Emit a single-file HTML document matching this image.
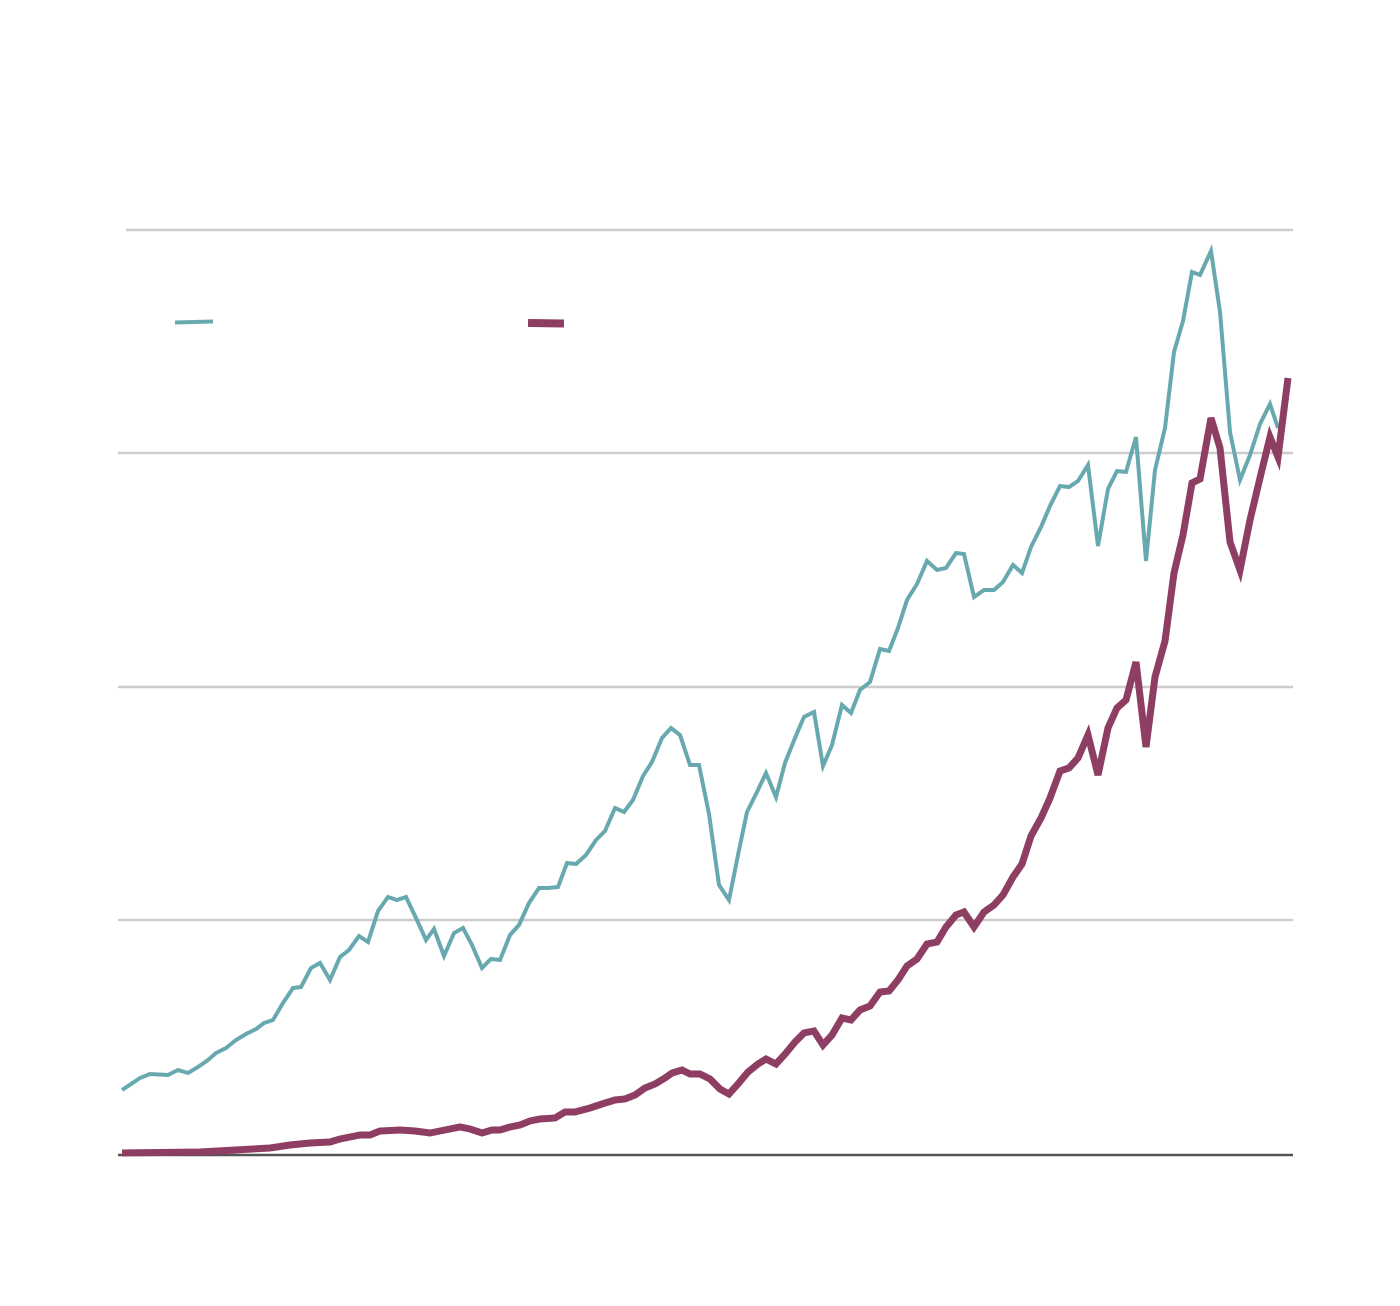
<!DOCTYPE html>
<html><head><meta charset="utf-8"><style>html,body{margin:0;padding:0;background:#fff;}svg{display:block}</style></head>
<body>
<svg width="1400" height="1306" viewBox="0 0 1400 1306" xmlns="http://www.w3.org/2000/svg">
<g stroke="#cccccc" stroke-width="2.5">
<line x1="126" y1="230" x2="1293" y2="230"/>
<line x1="118" y1="453" x2="1293" y2="453"/>
<line x1="118" y1="687" x2="1293" y2="687"/>
<line x1="118" y1="920" x2="1293" y2="920"/>
</g>
<line x1="118" y1="1155" x2="1293" y2="1155" stroke="#555" stroke-width="2.5"/>
<line x1="175" y1="322.5" x2="213" y2="321.5" stroke="#68a9b0" stroke-width="4"/>
<line x1="528" y1="323" x2="564" y2="323.5" stroke="#8e3e62" stroke-width="8"/>
<polyline fill="none" stroke="#68a9b0" stroke-width="4" stroke-linejoin="miter" points="122,1090 140,1078 150,1074 168,1075 178,1070 188,1073 198,1067 208,1060 216,1053 226,1048 236,1040 246,1034 256,1029 264,1023 273,1020 283,1003 293,988 301,987 311,968 320,963 330,980 340,957 349,950 359,936 368,942 378,911 388,897 397,900 406,897 416,918 426,940 434,929 444,956 454,933 463,928 472,945 482,968 491,959 500,960 510,935 519,925 529,903 539,888 548,888 558,887 567,863 576,864 586,855 596,840 605,831 615,808 624,812 633,800 643,776 652,762 662,738 671,728 680,735 690,765 699,765 709,814 719,885 729,900 738,855 747,812 757,792 766,773 776,797 785,763 795,738 804,717 814,712 823,766 832,745 842,705 851,713 860,690 870,682 880,649 889,651 898,628 907,600 917,584 927,561 937,570 946,568 956,553 964,554 974,597 984,590 994,590 1003,582 1013,565 1022,573 1031,547 1041,527 1050,506 1060,486 1069,487 1078,481 1088,465 1098,546 1108,489 1117,471 1126,472 1136,437 1146,561 1155,470 1165,428 1174,352 1183,321 1192,272 1200,275 1211,251 1220,312 1230,432 1240,480 1250,455 1260,424 1270,404 1278,428"/>
<polyline fill="none" stroke="#8e3e62" stroke-width="7" stroke-linejoin="miter" points="122,1153 200,1152 270,1148 290,1145 310,1143 330,1142 340,1139 360,1135 370,1135 380,1131 400,1130 415,1131 430,1133 445,1130 460,1127 470,1129 482,1133 492,1130 500,1130 510,1127 520,1125 530,1121 540,1119 555,1118 565,1112 575,1112 590,1108 602,1104 615,1100 625,1099 635,1095 645,1088 655,1084 665,1078 672,1073 682,1070 690,1074 700,1074 710,1079 720,1089 729,1094 738,1084 748,1072 758,1064 766,1059 776,1064 786,1053 795,1042 804,1033 814,1031 823,1045 832,1035 842,1018 851,1020 860,1010 870,1006 880,992 889,991 898,980 907,966 917,959 927,944 937,942 946,927 956,915 964,912 974,927 984,912 994,905 1003,895 1013,877 1022,864 1031,836 1041,818 1050,798 1060,771 1069,768 1078,758 1088,735 1098,775 1108,728 1117,708 1126,700 1136,662 1146,747 1155,677 1165,641 1174,573 1183,535 1192,483 1200,479 1211,418 1220,448 1230,542 1240,570 1250,520 1260,478 1270,437 1278,457 1288,378"/>
</svg>
</body></html>
